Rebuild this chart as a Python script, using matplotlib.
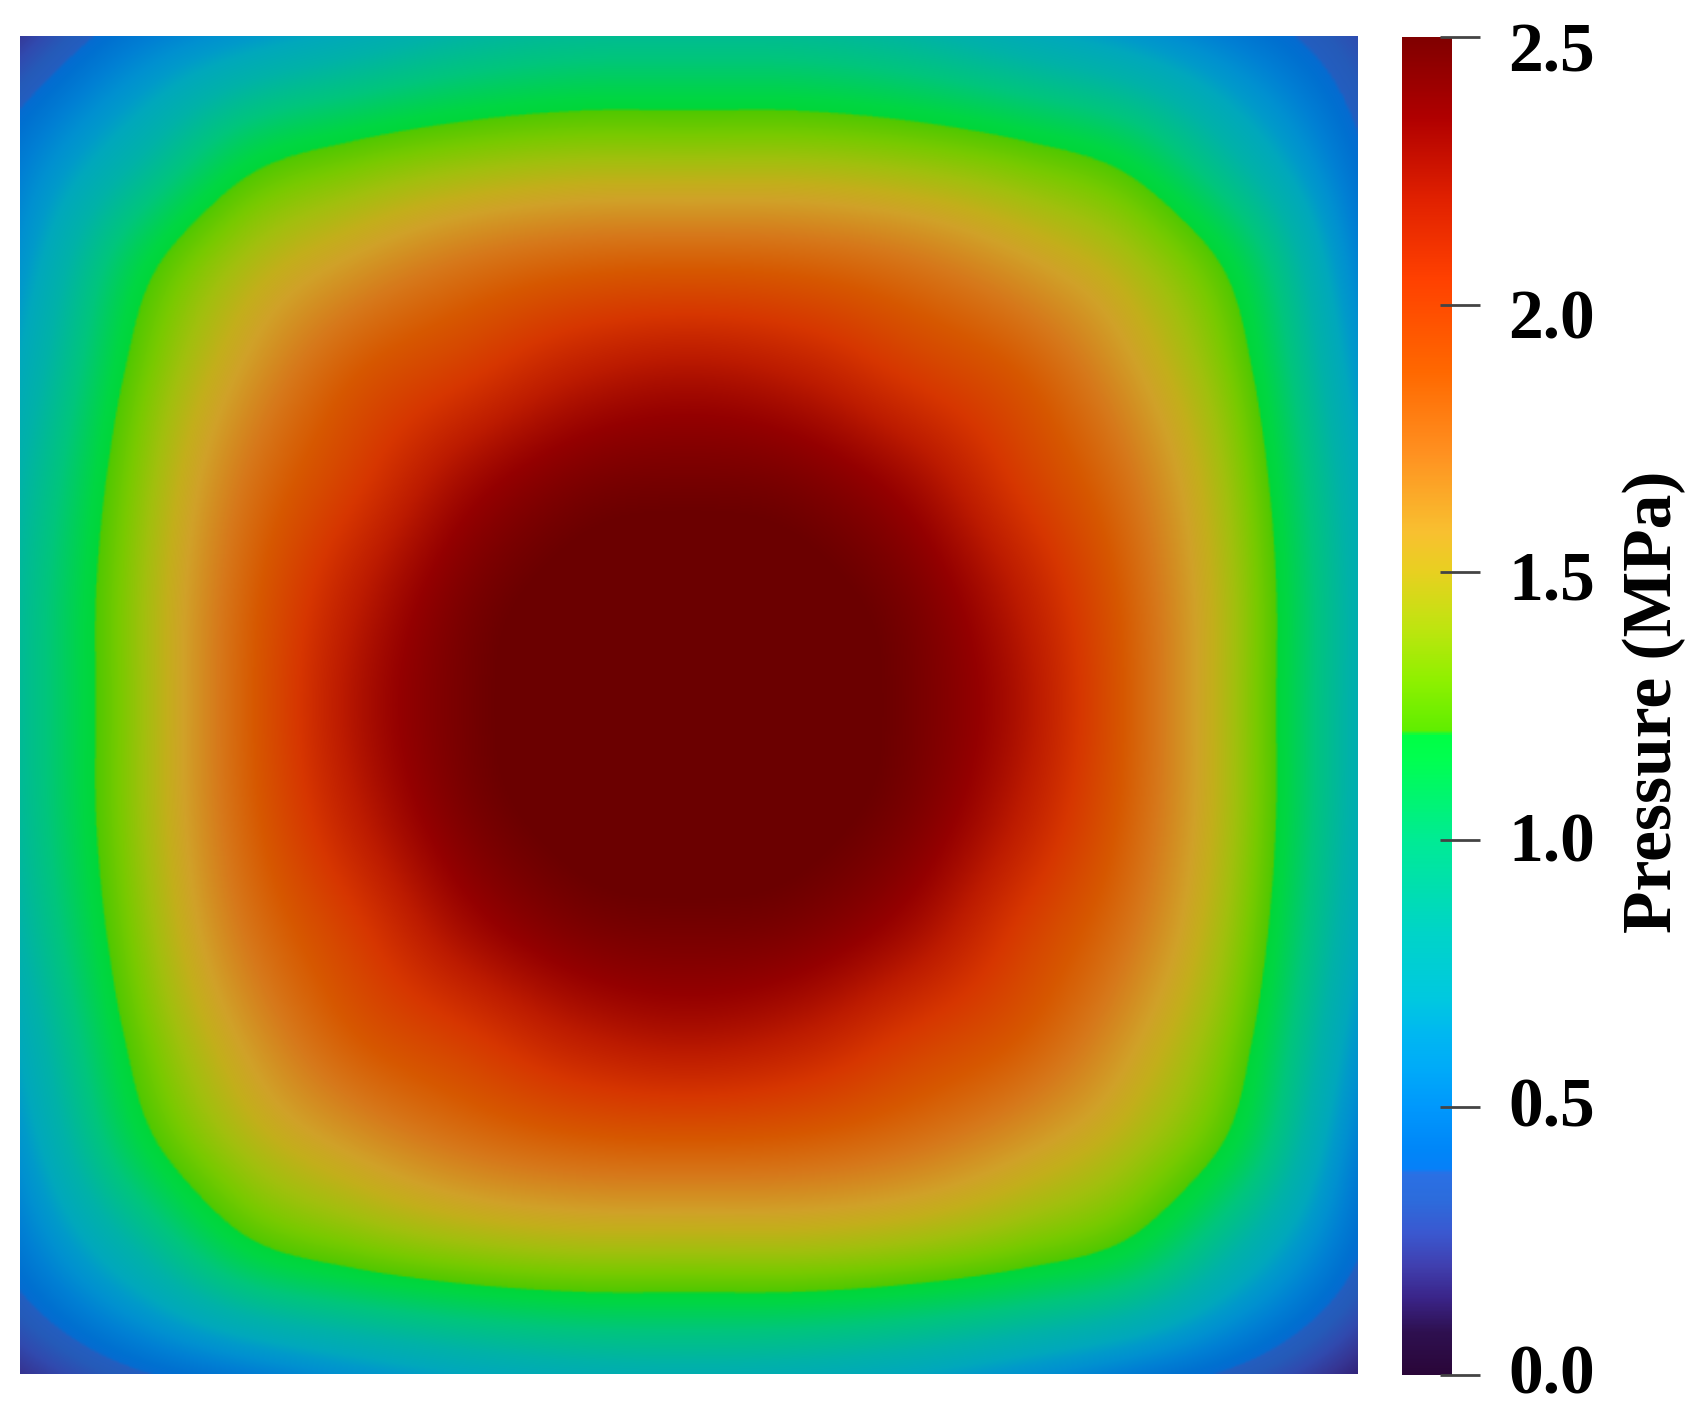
import numpy as np
import matplotlib
matplotlib.use("Agg")
import matplotlib.pyplot as plt
from matplotlib.colors import LinearSegmentedColormap, Normalize, to_rgb
from matplotlib.transforms import blended_transform_factory, ScaledTranslation
import matplotlib.cm as cm

# ---------------- data ----------------
# pressure field (MPa) sampled on a 13 x 13 grid, top row first
pressure = [
    [0.22, 0.46, 0.62, 0.74, 0.85, 0.91, 0.92, 0.91, 0.85, 0.74, 0.62, 0.46, 0.28],
    [0.46, 0.78, 1.10, 1.23, 1.31, 1.35, 1.35, 1.35, 1.31, 1.23, 1.10, 0.78, 0.40],
    [0.60, 1.10, 1.41, 1.59, 1.73, 1.81, 1.83, 1.81, 1.73, 1.59, 1.41, 1.10, 0.52],
    [0.72, 1.23, 1.59, 1.86, 2.02, 2.18, 2.24, 2.18, 2.02, 1.86, 1.59, 1.23, 0.63],
    [0.83, 1.31, 1.73, 2.02, 2.29, 2.43, 2.46, 2.43, 2.29, 2.02, 1.73, 1.31, 0.73],
    [0.89, 1.35, 1.81, 2.18, 2.43, 2.54, 2.57, 2.54, 2.43, 2.18, 1.81, 1.35, 0.78],
    [0.90, 1.35, 1.83, 2.24, 2.46, 2.57, 2.62, 2.57, 2.46, 2.24, 1.83, 1.35, 0.78],
    [0.89, 1.35, 1.81, 2.18, 2.43, 2.54, 2.57, 2.54, 2.43, 2.18, 1.81, 1.35, 0.77],
    [0.83, 1.31, 1.73, 2.02, 2.29, 2.43, 2.46, 2.43, 2.29, 2.02, 1.73, 1.31, 0.72],
    [0.72, 1.23, 1.59, 1.86, 2.02, 2.18, 2.24, 2.18, 2.02, 1.86, 1.59, 1.23, 0.62],
    [0.60, 1.10, 1.41, 1.59, 1.73, 1.81, 1.83, 1.81, 1.73, 1.59, 1.41, 1.10, 0.50],
    [0.44, 0.78, 1.10, 1.23, 1.31, 1.35, 1.35, 1.35, 1.31, 1.23, 1.10, 0.76, 0.38],
    [0.20, 0.36, 0.48, 0.60, 0.70, 0.76, 0.78, 0.76, 0.70, 0.60, 0.48, 0.34, 0.16],
]

cbar_ticks = [0.0, 0.5, 1.0, 1.5, 2.0, 2.5]
cbar_ticklabels = ["0.0", "0.5", "1.0", "1.5", "2.0", "2.5"]
cbar_label = "Pressure (MPa)"
vmin, vmax = 0.0, 2.5

# colour map stops (fraction of range, colour) as seen in the colour bar
cmap_pos = [0.000, 0.032, 0.057, 0.082, 0.106, 0.131, 0.150, 0.154, 0.168,
            0.200, 0.231, 0.256, 0.280, 0.330, 0.400, 0.440, 0.460, 0.478,
            0.482, 0.520, 0.560, 0.600, 0.630, 0.690, 0.750, 0.820, 0.880,
            0.940, 1.000]
cmap_hex = ["#2a0638", "#2e1050", "#3a2488", "#4040b0", "#3a58d0", "#2c6cdc",
            "#2a70e4", "#0680f8", "#0086f8", "#0098fc", "#00acf8", "#00b8f0",
            "#00c8e0", "#00d4c8", "#00eb94", "#00f866", "#00ff50", "#00ff44",
            "#60ee00", "#90f000", "#c0e410", "#e8d020", "#f8c030", "#ff9020",
            "#ff6800", "#ff4000", "#e02000", "#b00000", "#800000"]

# ---------------- styling ----------------
W, H = 1702, 1410
SHADE = 0.84
# vertical shift (px, + = down) of each tick label's digit centre vs its tick
label_shift_px = [-5.5, -4.5, -1.5, 3.5, 10.0, 11.0]
DIGIT_HALF_PX = 23.5

plt.rcParams["font.family"] = ["Liberation Serif", "DejaVu Serif"]
plt.rcParams["font.weight"] = "bold"

bright = LinearSegmentedColormap.from_list(
    "pv_bright", list(zip(cmap_pos, cmap_hex)), N=1024)
shaded_cols = [tuple(SHADE * c for c in to_rgb(h)) for h in cmap_hex]
shaded = LinearSegmentedColormap.from_list(
    "pv_shaded", list(zip(cmap_pos, shaded_cols)), N=1024)


def catmull_rom_weights(n, m):
    """Weights for smooth display of n samples on m screen rows/cols."""
    t = np.linspace(0, n - 1, m)
    Wm = np.zeros((m, n))
    for k, tk in enumerate(t):
        i = min(int(np.floor(tk)), n - 2)
        s = tk - i
        w0 = -0.5 * s + s ** 2 - 0.5 * s ** 3
        w1 = 1 - 2.5 * s ** 2 + 1.5 * s ** 3
        w2 = 0.5 * s + 2 * s ** 2 - 1.5 * s ** 3
        w3 = -0.5 * s ** 2 + 0.5 * s ** 3
        idx = [i - 1, i, i + 1, i + 2]
        ws = [w0, w1, w2, w3]
        if idx[0] < 0:
            ws[1] += 2 * ws[0]
            ws[2] -= ws[0]
            ws[0] = 0.0
            idx[0] = 0
        if idx[3] > n - 1:
            ws[2] += 2 * ws[3]
            ws[1] -= ws[3]
            ws[3] = 0.0
            idx[3] = n - 1
        for j, w in zip(idx, ws):
            Wm[k, j] += w
    return Wm


fig = plt.figure(figsize=(W / 100, H / 100), dpi=100)
fig.patch.set_facecolor("white")

# field axes (pixel box: x 20..1358, y 36..1374)
ax = fig.add_axes([20 / W, 1 - 1374 / H, 1338 / W, 1338 / H])
field = np.array(pressure)
ny, nx = field.shape
M = 700
Wy = catmull_rom_weights(ny, M)
Wx = catmull_rom_weights(nx, M)
smooth = Wy @ field @ Wx.T
ax.imshow(smooth, cmap=shaded, vmin=vmin, vmax=vmax, interpolation="bilinear",
          origin="upper", extent=(0, 1, 0, 1), aspect="auto")
ax.set_xlim(0, 1)
ax.set_ylim(0, 1)
ax.axis("off")

# colour bar (pixel box: x 1402..1452, y 37..1375)
cax = fig.add_axes([1402 / W, 1 - 1375 / H, 50 / W, 1338 / H])
sm = cm.ScalarMappable(norm=Normalize(vmin, vmax), cmap=bright)
cb = fig.colorbar(sm, cax=cax)
cb.outline.set_visible(False)
cb.set_ticks(cbar_ticks)
cb.ax.tick_params(length=0, labelright=False)

# tick marks: start inside the bar (x=1440) and reach x=1480
tick_trans = blended_transform_factory(cax.transAxes, cax.transData)
for val in cbar_ticks:
    cax.plot([(1440 - 1402) / 50, (1480 - 1402) / 50], [val, val],
             transform=tick_trans, color="#444444", lw=2, clip_on=False,
             solid_capstyle="butt")

trans = blended_transform_factory(fig.transFigure, cax.transData)
for val, lab, sh in zip(cbar_ticks, cbar_ticklabels, label_shift_px):
    off = ScaledTranslation(0, -(sh + DIGIT_HALF_PX) / 100, fig.dpi_scale_trans)
    fig.text(1508 / W, val, lab, transform=trans + off, ha="left",
             va="baseline", fontsize=50, fontweight="bold")

fig.text(1654 / W, 1 - 702 / H, cbar_label, rotation=90, ha="center",
         va="center", fontsize=50, fontweight="bold")

fig.savefig("out.png", dpi=100, facecolor="white")
